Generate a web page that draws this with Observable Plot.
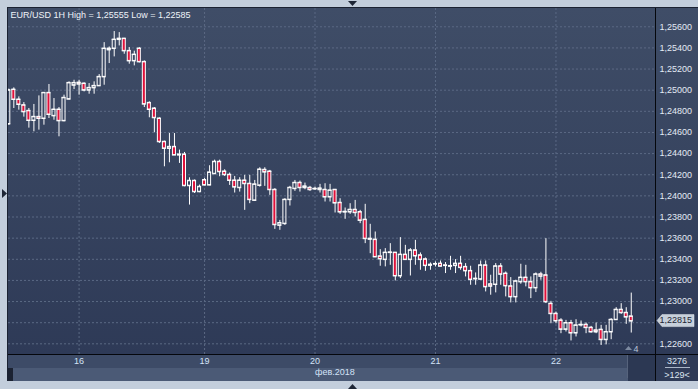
<!DOCTYPE html>
<html><head><meta charset="utf-8">
<script src="https://cdn.jsdelivr.net/npm/d3@7"></script>
<script src="https://cdn.jsdelivr.net/npm/@observablehq/plot@0.6"></script>
<style>html,body{margin:0;padding:0;background:#c3cedc;overflow:hidden} svg{display:block}</style>
</head><body><div id="chart"></div>
<script>
// ---- data ----
const open = [1.24680,1.25006,1.24912,1.24858,1.24805,1.24713,1.24748,1.24732,1.24975,1.24757,
1.24817,1.24710,1.24915,1.25047,1.25072,1.25063,1.25000,1.25022,1.25041,1.25126,
1.25381,1.25394,1.25479,1.25488,1.25372,1.25277,1.25394,1.25268,1.24880,1.24827,
1.24732,1.24512,1.24449,1.24464,1.24386,1.24392,1.24096,1.24143,1.24039,1.24150,
1.24102,1.24209,1.24323,1.24231,1.24200,1.24146,1.24077,1.24146,1.24115,1.23957,
1.24099,1.24247,1.24231,1.24058,1.23721,1.23737,1.23964,1.24068,1.24124,1.24077,
1.24077,1.24068,1.24058,1.24058,1.23989,1.24058,1.23935,1.23847,1.23847,1.23869,
1.23847,1.23775,1.23595,1.23586,1.23428,1.23397,1.23463,1.23463,1.23242,1.23444,
1.23397,1.23485,1.23438,1.23400,1.23349,1.23356,1.23359,1.23343,1.23337,1.23340,
1.23359,1.23328,1.23290,1.23214,1.23211,1.23343,1.23164,1.23161,1.23334,1.23265,
1.23145,1.23044,1.23186,1.23227,1.23186,1.23129,1.23258,1.23249,1.22980,1.22885,
1.22822,1.22737,1.22797,1.22702,1.22781,1.22781,1.22753,1.22728,1.22734,1.22639,
1.22712,1.22828,1.22923,1.22894,1.22860];
const high = [1.25010,1.25022,1.24937,1.24883,1.24827,1.24865,1.24946,1.24975,1.25054,1.24921,
1.24836,1.24953,1.25079,1.25094,1.25094,1.25069,1.25063,1.25079,1.25148,1.25450,
1.25409,1.25555,1.25545,1.25490,1.25403,1.25369,1.25403,1.25277,1.24890,1.24836,
1.24739,1.24518,1.24590,1.24590,1.24433,1.24411,1.24171,1.24150,1.24102,1.24165,
1.24285,1.24338,1.24338,1.24247,1.24216,1.24184,1.24172,1.24194,1.24194,1.24146,
1.24266,1.24266,1.24241,1.24068,1.23768,1.23973,1.24090,1.24146,1.24140,1.24121,
1.24090,1.24083,1.24109,1.24115,1.24109,1.24058,1.23973,1.23885,1.23926,1.23957,
1.23863,1.23920,1.23731,1.23658,1.23491,1.23501,1.23548,1.23463,1.23605,1.23532,
1.23501,1.23579,1.23460,1.23412,1.23365,1.23375,1.23384,1.23369,1.23428,1.23397,
1.23428,1.23359,1.23334,1.23271,1.23384,1.23384,1.23249,1.23359,1.23359,1.23280,
1.23227,1.23202,1.23353,1.23343,1.23233,1.23271,1.23277,1.23595,1.23002,1.22901,
1.22838,1.22822,1.22822,1.22828,1.22816,1.22797,1.22765,1.22797,1.22775,1.22775,
1.22838,1.22942,1.22980,1.22942,1.23080];
const low = [1.24669,1.24827,1.24811,1.24745,1.24641,1.24606,1.24622,1.24669,1.24732,1.24716,
1.24559,1.24701,1.24909,1.25006,1.24953,1.24984,1.24962,1.24962,1.25041,1.25047,
1.25252,1.25315,1.25419,1.25340,1.25246,1.25230,1.25258,1.24836,1.24739,1.24597,
1.24496,1.24275,1.24313,1.24386,1.24307,1.24086,1.23913,1.24023,1.24030,1.24096,
1.24096,1.24203,1.24181,1.24184,1.24099,1.24027,1.24036,1.23863,1.23926,1.23951,
1.24083,1.24090,1.24005,1.23683,1.23674,1.23721,1.23904,1.24043,1.24036,1.24058,
1.24043,1.24052,1.24027,1.23942,1.23942,1.23838,1.23825,1.23778,1.23825,1.23800,
1.23737,1.23548,1.23453,1.23416,1.23334,1.23328,1.23343,1.23195,1.23217,1.23390,
1.23242,1.23343,1.23296,1.23286,1.23296,1.23327,1.23328,1.23265,1.23296,1.23265,
1.23296,1.23233,1.23154,1.23154,1.23202,1.23091,1.23060,1.23082,1.23154,1.23044,
1.22987,1.22987,1.23164,1.23139,1.23028,1.23085,1.23202,1.22981,1.22790,1.22790,
1.22696,1.22712,1.22627,1.22665,1.22759,1.22696,1.22702,1.22696,1.22585,1.22590,
1.22639,1.22822,1.22879,1.22784,1.22702];
const close = [1.25000,1.24912,1.24865,1.24795,1.24713,1.24748,1.24732,1.24975,1.24770,1.24817,
1.24710,1.24928,1.25069,1.25069,1.25057,1.25000,1.25022,1.25041,1.25126,1.25394,
1.25394,1.25479,1.25488,1.25372,1.25277,1.25337,1.25268,1.24868,1.24817,1.24739,
1.24512,1.24449,1.24464,1.24386,1.24392,1.24096,1.24143,1.24039,1.24086,1.24102,
1.24222,1.24323,1.24228,1.24200,1.24146,1.24083,1.24146,1.24115,1.23964,1.24109,
1.24250,1.24225,1.24058,1.23727,1.23743,1.23964,1.24077,1.24124,1.24077,1.24090,
1.24058,1.24065,1.24071,1.23989,1.24052,1.23932,1.23847,1.23850,1.23869,1.23841,
1.23768,1.23595,1.23589,1.23422,1.23403,1.23463,1.23466,1.23242,1.23444,1.23397,
1.23485,1.23431,1.23397,1.23340,1.23343,1.23355,1.23334,1.23340,1.23334,1.23359,
1.23321,1.23290,1.23208,1.23217,1.23343,1.23139,1.23145,1.23334,1.23258,1.23148,
1.23044,1.23192,1.23227,1.23186,1.23129,1.23258,1.23239,1.22997,1.22885,1.22816,
1.22737,1.22797,1.22702,1.22775,1.22778,1.22753,1.22712,1.22712,1.22639,1.22712,
1.22828,1.22923,1.22894,1.22853,1.22815];
const dayTickIndex = [14, 39, 61, 85, 109];
const dayTickLabel = ["16", "19", "20", "21", "22"];
const monthLabel = "фев.2018";
const priceTicks = [1.226,1.228,1.230,1.232,1.234,1.236,1.238,1.240,1.242,1.244,1.246,1.248,1.250,1.252,1.254,1.256];
const titleText = "EUR/USD 1H High = 1,25555 Low = 1,22585";
const lastPrice = 1.22815;
const barInfo = ["3276", ">129<"];
const futureMarker = "4";

// ---- build ----
const candles = open.map((o, i) => ({i, o, h: high[i], l: low[i], c: close[i], up: close[i] >= o}));
const fmt = v => v.toFixed(5).replace(".", ",");
const W = 698, H = 389, ML = 8, MR = 43, MT = 8, MB = 35;
const RED = "#e0103a", WHITE = "#ffffff";
const yDomain = [1.22499, 1.25773];
// the last-price tag hides the tick label it sits on
const pxPerUnit = (H - MT - MB) / (yDomain[1] - yDomain[0]);
const visibleTickLabels = priceTicks.filter(v => Math.abs(v - lastPrice) * pxPerUnit > 9);

const svg = Plot.plot({
  width: W, height: H,
  marginLeft: ML, marginRight: MR, marginTop: MT, marginBottom: MB,
  x: {type: "linear", domain: [-0.06, 128.83], axis: null},
  y: {domain: yDomain, axis: null},
  style: {background: "transparent", fontFamily: "'Liberation Sans', Arial, sans-serif", fontSize: "9px", overflow: "visible"},
  marks: [
    Plot.ruleY(priceTicks, {stroke: "#5b6984", strokeDasharray: "2,2"}),
    Plot.ruleX(dayTickIndex, {stroke: "#5b6984", strokeDasharray: "2,2"}),
    // wicks
    Plot.ruleX(candles, {x: "i", y1: d => Math.max(d.o, d.c), y2: "h", stroke: WHITE, clip: true}),
    Plot.ruleX(candles, {x: "i", y1: "l", y2: d => Math.min(d.o, d.c), stroke: WHITE, clip: true}),
    // bodies
    Plot.rect(candles, {x1: d => d.i - 0.3, x2: d => d.i + 0.3, y1: "o", y2: "c",
      fill: d => d.up ? "none" : RED, stroke: WHITE, strokeWidth: 1, clip: true}),
    Plot.ruleY(candles, {y: "o", x1: d => d.i - 0.4, x2: d => d.i + 0.4, stroke: WHITE, clip: true}),
    Plot.ruleY(candles, {y: "c", x1: d => d.i - 0.4, x2: d => d.i + 0.4, stroke: WHITE, clip: true}),
    // price axis labels (right)
    Plot.text(visibleTickLabels, {y: d => d, text: fmt, frameAnchor: "right", textAnchor: "start", dx: 4, fill: "#e3eaf4"}),
    // day labels
    Plot.text(dayTickIndex, {x: d => d, text: (d, i) => dayTickLabel[i], frameAnchor: "bottom", dy: 9, fill: "#d3e2f6"}),
    Plot.text([monthLabel], {x: () => dayTickIndex[2], text: d => d, frameAnchor: "bottom", dy: 20, textAnchor: "start", dx: 0, fill: "#d3e2f6"}),
    // title
    Plot.text([titleText], {text: d => d, frameAnchor: "top-left", dx: 2, dy: 7, textAnchor: "start", lineAnchor: "middle", fill: "#eef2f8"})
  ]
});

const s = d3.select(svg);
const bg = s.insert("g", ":first-child");
const defs = s.insert("defs", ":first-child");
defs.html(`<linearGradient id="bggrad" x1="0" y1="0" x2="0" y2="1">
  <stop offset="0" stop-color="#3f4d67"/><stop offset="1" stop-color="#2e3a57"/></linearGradient>`);
bg.append("rect").attr("x", 0).attr("y", 0).attr("width", W).attr("height", H).attr("fill", "#c3cedc");
bg.append("rect").attr("x", 7).attr("y", 7).attr("width", W - 7).attr("height", 375).attr("fill", "#1b2232");
bg.append("rect").attr("x", 8).attr("y", 8).attr("width", W - 8).attr("height", 346).attr("fill", "url(#bggrad)");
bg.append("rect").attr("x", 8).attr("y", 354).attr("width", W - 8).attr("height", 14).attr("fill", "#3d4b67");
bg.append("rect").attr("x", 13).attr("y", 368).attr("width", W - 13).attr("height", 13).attr("fill", "#4b5a76");
bg.append("rect").attr("x", 628).attr("y", 354).attr("width", 27).attr("height", 27).attr("fill", "#2c3853");
bg.append("rect").attr("x", 655).attr("y", 354).attr("width", 43).attr("height", 27).attr("fill", "#2f3b57");
bg.append("rect").attr("x", 0).attr("y", 381).attr("width", W).attr("height", 8).attr("fill", "#c3cedc");

// frame lines & markers
const fg = s.append("g");
fg.append("line").attr("x1", 8).attr("x2", W).attr("y1", 354.5).attr("y2", 354.5).attr("stroke", "#05070c");
fg.append("line").attr("x1", 655.5).attr("x2", 655.5).attr("y1", 8).attr("y2", 381).attr("stroke", "#05070c");
fg.append("line").attr("x1", 627.5).attr("x2", 627.5).attr("y1", 355).attr("y2", 378).attr("stroke", "#56637c");
fg.append("path").attr("d", "M348,1L357,1L352.5,6Z").attr("fill", "#1e2636");
fg.append("path").attr("d", "M2,189L2,198L7,193.5Z").attr("fill", "#1e2636");
fg.append("path").attr("d", "M348,389L357,389L352.5,384Z").attr("fill", "#1e2636");
fg.append("path").attr("d", "M625,350L632,350L628.5,346Z").attr("fill", "#7d8aa0");
fg.append("text").attr("x", 636).attr("y", 352).attr("fill", "#b9c6d8").attr("font-size", "9px").text(futureMarker);

// last price tag (positioned through Plot's y scale)
const yS = svg.scale("y");
const py = yS.apply(lastPrice);
fg.append("path").attr("d", `M657,${py}L662,${py - 6}L694,${py - 6}L694,${py + 6}L662,${py + 6}Z`)
  .attr("fill", "#c6cfda").attr("stroke", "#e6ebf1").attr("stroke-width", 0.5);
fg.append("text").attr("x", 692).attr("y", py).attr("dy", "0.32em").attr("text-anchor", "end")
  .attr("fill", "#1d2534").attr("font-size", "9px").text(fmt(lastPrice));

// bar info (bottom right)
fg.append("text").attr("x", 677).attr("y", 361).attr("dy", "0.32em").attr("text-anchor", "middle").attr("fill", "#dbe4f0").attr("font-size", "9px").text(barInfo[0]);
fg.append("line").attr("x1", 665).attr("x2", 690).attr("y1", 367.5).attr("y2", 367.5).attr("stroke", "#aab6c8");
fg.append("text").attr("x", 677).attr("y", 375).attr("dy", "0.32em").attr("text-anchor", "middle").attr("fill", "#dbe4f0").attr("font-size", "9px").text(barInfo[1]);

document.getElementById("chart").appendChild(svg);
</script>
</body></html>
